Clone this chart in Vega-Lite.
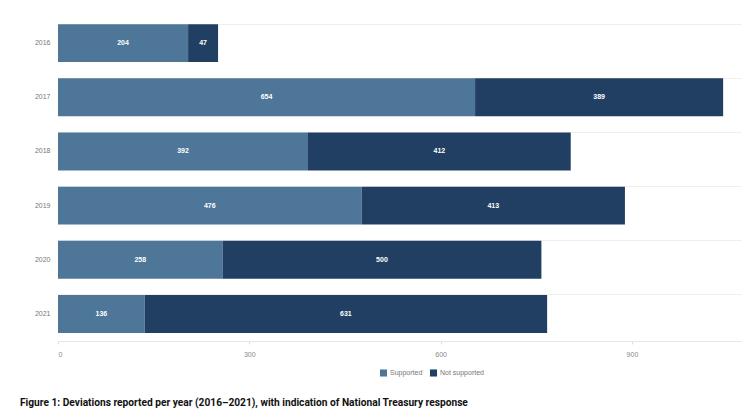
{
  "$schema": "https://vega.github.io/schema/vega-lite/v6.json",
  "width": 683,
  "height": 325,
  "autosize": {"type": "none"},
  "padding": {"left": 58, "top": 16, "right": 10, "bottom": 74},
  "background": "white",
  "config": {"view": {"stroke": null}, "font": "Liberation Sans"},
  "title": {
    "text": "Figure 1: Deviations reported per year (2016–2021), with indication of National Treasury response",
    "orient": "bottom",
    "anchor": "start",
    "frame": "group",
    "baseline": "alphabetic",
    "dx": -38,
    "offset": 29,
    "font": "Roboto",
    "fontSize": 10.2,
    "fontWeight": "bold",
    "color": "#111111"
  },
  "data": {
    "values": [
      {"year": "2016", "series": "Supported", "value": 204},
      {"year": "2016", "series": "Not supported", "value": 47},
      {"year": "2017", "series": "Supported", "value": 654},
      {"year": "2017", "series": "Not supported", "value": 389},
      {"year": "2018", "series": "Supported", "value": 392},
      {"year": "2018", "series": "Not supported", "value": 412},
      {"year": "2019", "series": "Supported", "value": 476},
      {"year": "2019", "series": "Not supported", "value": 413},
      {"year": "2020", "series": "Supported", "value": 258},
      {"year": "2020", "series": "Not supported", "value": 500},
      {"year": "2021", "series": "Supported", "value": 136},
      {"year": "2021", "series": "Not supported", "value": 631}
    ]
  },
  "transform": [
    {"stack": "value", "groupby": ["year"], "sort": [{"field": "series", "order": "descending"}], "as": ["v0", "v1"]},
    {"calculate": "(datum.v0 + datum.v1) / 2", "as": "mid"}
  ],
  "encoding": {
    "y": {
      "field": "year",
      "type": "nominal",
      "scale": {"paddingInner": 0.3, "paddingOuter": 0.15},
      "axis": {
        "title": null,
        "ticks": false,
        "domain": false,
        "labelFontSize": 7,
        "labelColor": "#777777",
        "labelPadding": 8,
        "grid": true,
        "gridColor": "#f0eeee",
        "bandPosition": 0
      }
    }
  },
  "layer": [
    {
      "mark": {"type": "bar"},
      "encoding": {
        "x": {
          "field": "v0",
          "type": "quantitative",
          "scale": {"domain": [0, 1071], "nice": false},
          "axis": {
            "title": null,
            "values": [0, 300, 600, 900],
            "grid": false,
            "domain": true,
            "domainColor": "#e6e6e6",
            "ticks": true,
            "tickSize": 3,
            "tickColor": "#dddddd",
            "labelFontSize": 7,
            "labelColor": "#888888",
            "labelPadding": 6
          }
        },
        "x2": {"field": "v1"},
        "color": {
          "field": "series",
          "type": "nominal",
          "scale": {"domain": ["Supported", "Not supported"], "range": ["#4e7698", "#213f62"]},
          "legend": {
            "title": null,
            "orient": "none",
            "direction": "horizontal",
            "legendX": 321,
            "legendY": 352,
            "symbolType": "square",
            "symbolSize": 50,
            "symbolOpacity": 1,
            "labelFontSize": 7,
            "labelColor": "#777777",
            "columnPadding": 6,
            "labelOffset": 2
          }
        }
      }
    },
    {
      "mark": {"type": "text", "color": "white", "fontSize": 7, "fontWeight": "bold"},
      "encoding": {
        "x": {"field": "mid", "type": "quantitative"},
        "text": {"field": "value", "type": "quantitative"}
      }
    }
  ]
}
